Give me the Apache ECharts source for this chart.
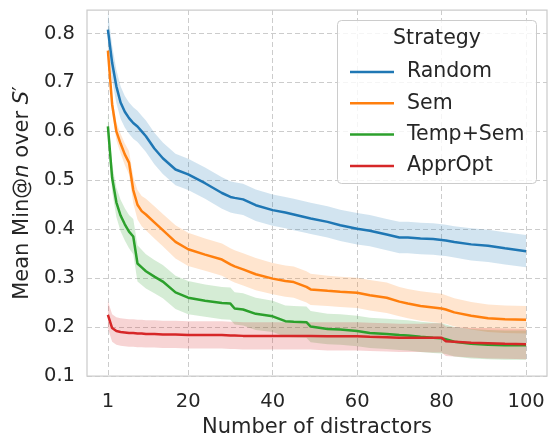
<!DOCTYPE html>
<html>
<head>
<meta charset="utf-8">
<script src="https://cdn.jsdelivr.net/npm/echarts@6/dist/echarts.min.js"></script>
<style>
  html, body { margin: 0; padding: 0; background: #fff; }
  #chart { width: 549px; height: 434px; }
</style>
</head>
<body>
<div id="chart"></div>
<script>
// number of distractors (sampled where the curves change)
const distractors = [1,2,3,4,5,6,7,8,9,10,12,14,17,20,24,28,30,31,33,36,40,43,45,48,49,53,56,60,63,67,70,72,75,78,80,81,83,87,91,95,100];

const randomMean = [0.808,0.740,0.692,0.659,0.640,0.627,0.617,0.610,0.600,0.590,0.565,0.545,0.522,0.512,0.494,0.474,0.466,0.464,0.461,0.449,0.439,0.434,0.430,0.424,0.422,0.415,0.408,0.401,0.397,0.389,0.383,0.383,0.381,0.380,0.378,0.377,0.374,0.369,0.366,0.361,0.355];
const semMean = [0.765,0.655,0.600,0.575,0.553,0.536,0.480,0.450,0.437,0.430,0.414,0.398,0.374,0.359,0.348,0.338,0.328,0.324,0.318,0.308,0.299,0.294,0.292,0.282,0.277,0.274,0.272,0.270,0.265,0.260,0.252,0.248,0.243,0.240,0.238,0.236,0.230,0.223,0.218,0.216,0.215];
const tempSemMean = [0.610,0.505,0.455,0.428,0.410,0.395,0.385,0.330,0.322,0.314,0.303,0.293,0.271,0.260,0.254,0.249,0.248,0.238,0.236,0.227,0.222,0.212,0.211,0.210,0.201,0.196,0.195,0.192,0.188,0.186,0.184,0.183,0.180,0.178,0.177,0.175,0.170,0.166,0.164,0.163,0.163];
const apprOptMean = [0.225,0.198,0.192,0.190,0.189,0.188,0.188,0.187,0.187,0.186,0.186,0.185,0.185,0.184,0.184,0.184,0.183,0.183,0.182,0.182,0.182,0.182,0.182,0.182,0.182,0.181,0.181,0.181,0.180,0.179,0.178,0.178,0.178,0.178,0.178,0.171,0.170,0.168,0.167,0.166,0.165];

// half width of the shaded confidence band
const randomErr = [0.037,0.035,0.034,0.033,0.032,0.032,0.032,0.032,0.032,0.032,0.032,0.032,0.032,0.032,0.032,0.032,0.032,0.032,0.032,0.032,0.032,0.032,0.032,0.032,0.032,0.032,0.032,0.032,0.032,0.032,0.032,0.032,0.032,0.032,0.032,0.032,0.032,0.033,0.033,0.033,0.033];
const semErr = [0.015,0.017,0.018,0.020,0.022,0.024,0.027,0.030,0.031,0.032,0.033,0.033,0.034,0.034,0.033,0.033,0.033,0.033,0.033,0.033,0.032,0.032,0.032,0.032,0.032,0.031,0.031,0.031,0.031,0.031,0.030,0.030,0.030,0.030,0.030,0.029,0.029,0.028,0.028,0.028,0.028];
const tempSemErr = [0.025,0.028,0.030,0.032,0.033,0.034,0.036,0.037,0.036,0.035,0.034,0.034,0.034,0.034,0.033,0.033,0.033,0.033,0.033,0.033,0.032,0.032,0.032,0.032,0.032,0.031,0.031,0.031,0.031,0.031,0.031,0.031,0.031,0.031,0.031,0.030,0.030,0.030,0.030,0.030,0.030];
const apprOptErr = [0.028,0.028,0.028,0.028,0.028,0.028,0.028,0.028,0.028,0.028,0.028,0.028,0.028,0.028,0.028,0.028,0.028,0.028,0.028,0.028,0.028,0.028,0.028,0.028,0.028,0.029,0.029,0.029,0.029,0.029,0.029,0.029,0.029,0.030,0.030,0.030,0.030,0.030,0.031,0.031,0.031];

const strategies = ['Random', 'Sem', 'Temp+Sem', 'ApprOpt'];
const xTicks = [1, 20, 40, 60, 80, 100];
const yTicks = [0.1, 0.2, 0.3, 0.4, 0.5, 0.6, 0.7, 0.8];

const means = [randomMean, semMean, tempSemMean, apprOptMean];
const errs = [randomErr, semErr, tempSemErr, apprOptErr];
const colors = ['#1f77b4', '#ff7f0e', '#2ca02c', '#d62728'];
const bandColors = ['rgba(31,119,180,0.2)', 'rgba(255,127,14,0.2)', 'rgba(44,160,44,0.2)', 'rgba(214,39,40,0.2)'];

const FONT = 'DejaVu Sans';
const TXT = '#262626';

let chart = echarts.init(document.getElementById('chart'));

let series = [];
// confidence bands as polygons through the axis scales
means.forEach(function (m, k) {
    let e = errs[k];
    series.push({
        name: 'band' + k, type: 'custom', silent: true, z: 1,
        data: [[distractors[0], m[0]]],
        renderItem: function (params, api) {
            let pts = [];
            for (let i = 0; i < distractors.length; i++) {
                pts.push(api.coord([distractors[i], m[i] + e[i]]));
            }
            for (let i = distractors.length - 1; i >= 0; i--) {
                pts.push(api.coord([distractors[i], m[i] - e[i]]));
            }
            return {
                type: 'polygon', shape: { points: pts },
                style: { fill: bandColors[k], stroke: null }
            };
        }
    });
});
means.forEach(function (m, k) {
    series.push({
        name: strategies[k], type: 'line', symbol: 'none',
        lineStyle: { color: colors[k], width: 2.5 },
        itemStyle: { color: colors[k] },
        data: distractors.map(function (x, i) { return [x, m[i]]; }),
        z: 2
    });
});

let option = {
    animation: false,
    backgroundColor: '#fff',
    textStyle: { fontFamily: FONT },
    grid: {
        left: 87, right: 2, top: 10, bottom: 58,
        outerBoundsMode: 'none', containLabel: false,
        show: true, borderColor: '#cccccc', borderWidth: 1.25, backgroundColor: '#fff'
    },
    xAxis: {
        type: 'value', min: -3.95, max: 104.95,
        name: 'Number of distractors', nameLocation: 'middle', nameGap: 40,
        nameTextStyle: { fontSize: 21, color: TXT, fontFamily: FONT },
        axisLine: { show: false }, axisTick: { show: false, customValues: xTicks },
        axisLabel: { customValues: xTicks, fontSize: 19.5, color: TXT, margin: 16, fontFamily: FONT },
        splitLine: { show: true, lineStyle: { color: '#cccccc', type: [5, 3], width: 1 } }
    },
    yAxis: {
        type: 'value', min: 0.1, max: 0.848,
        name: 'Mean Min@{i|n} over {i|S}′', nameLocation: 'middle', nameGap: 50,
        nameTextStyle: {
            fontSize: 21, color: TXT, fontFamily: FONT,
            rich: { i: { fontStyle: 'italic', fontSize: 21, color: TXT, fontFamily: FONT } }
        },
        axisLine: { show: false }, axisTick: { show: false, customValues: yTicks },
        axisLabel: {
            customValues: yTicks, fontSize: 19.5, color: TXT, margin: 12, fontFamily: FONT,
            formatter: function (v) { return v.toFixed(1); }
        },
        splitLine: { show: true, lineStyle: { color: '#cccccc', type: [5, 3], width: 1 } }
    },
    legend: {
        data: strategies, orient: 'vertical', left: 345, top: 56,
        icon: 'rect', itemWidth: 44, itemHeight: 2.5, itemGap: 9.3,
        textStyle: { fontSize: 20.5, color: TXT, fontFamily: FONT, lineHeight: 22, padding: [0, 0, 0, 8] },
        z: 6
    },
    graphic: [
        {
            type: 'rect', z: 5, silent: true,
            shape: { x: 337.5, y: 20.5, width: 199, height: 163, r: 4 },
            style: { fill: 'rgba(255,255,255,0.8)', stroke: '#cccccc', lineWidth: 1 }
        },
        {
            type: 'text', z: 6, silent: true, x: 437, y: 39,
            style: { text: 'Strategy', fontSize: 20.5, fontFamily: FONT, fill: TXT, align: 'center', verticalAlign: 'middle' }
        }
    ],
    series: series
};

chart.setOption(option);
</script>
</body>
</html>
